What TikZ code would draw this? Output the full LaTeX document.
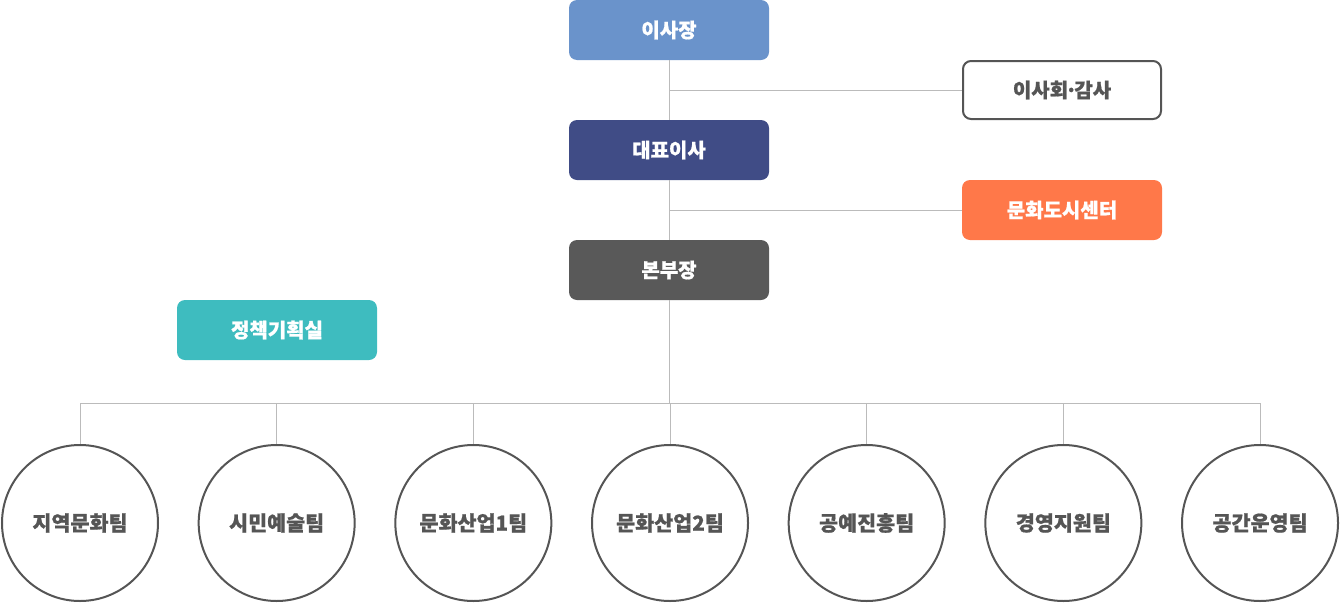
\documentclass[tikz,border=0pt]{standalone}
\usepackage{fontspec}
\newfontfamily\krfont{Noto Sans CJK KR}[BoldFeatures={FakeBold=0.8}]
\usepackage{tikz}
\definecolor{chaircol}{HTML}{6A93CB}
\definecolor{ceocol}{HTML}{404C86}
\definecolor{citycol}{HTML}{FF7849}
\definecolor{headcol}{HTML}{595959}
\definecolor{plancol}{HTML}{3EBCBF}
\definecolor{textgray}{HTML}{555555}
\definecolor{linegray}{HTML}{BBBBBB}
\tikzstyle{block} = [rectangle, rounded corners=6pt, minimum width=150pt,
                 minimum height=45pt, text=white, inner sep=0pt,
                 font=\krfont\bfseries\fontsize{15}{17}\selectfont]
\tikzstyle{team} = [circle, draw=textgray, line width=1.5pt, fill=white,
                 minimum size=117pt, inner sep=0pt, text=textgray,
                 font=\krfont\bfseries\fontsize{15.5}{17}\selectfont]
\tikzstyle{branch} = [draw=linegray, line width=0.75pt]

\begin{document}
\begin{tikzpicture}[x=0.75pt, y=-0.75pt]

\useasboundingbox (0,0) rectangle (1340,604);

\node [block, fill=chaircol] at (669,30) (chair) {이사장};
\node [block, fill=ceocol] at (669,150) (ceo) {대표이사};
\node [block, fill=headcol] at (669,270) (head) {본부장};
\node [block, draw=textgray, line width=1.5pt, fill=white, text=textgray,
       minimum width=148.5pt, minimum height=43.5pt] at (1062,90) (board)
       {이사회\kern-0.15em·\kern-0.15em감사};
\node [block, fill=citycol] at (1062,210) (city) {문화도시센터};
\node [block, fill=plancol] at (277,330) (plan) {정책기획실};

\coordinate (bus) at (669,403);

    	%teams
\foreach \i/\team in {0/지역문화팀, 1/시민예술팀, 2/문화산업1팀, 3/문화산업2팀,
                      4/공예진흥팀, 5/경영지원팀, 6/공간운영팀}
	\node [team] at ({80+196.67*\i},523) (t\i) {\team};

\path [branch] (chair.south) -- (ceo.north);
\path [branch] (ceo.south) -- (head.north);
\path [branch] (head.south) -- (bus);
\path [branch] (board.west -| chair.south) -- (board.west);
\path [branch] (city.west -| ceo.south) -- (city.west);
\path [branch] (t0.north |- bus) -- (t6.north |- bus);
\foreach \i in {0,...,6}
	\path [branch] (t\i.north |- bus) -- (t\i.north);

\end{tikzpicture}
\end{document}
